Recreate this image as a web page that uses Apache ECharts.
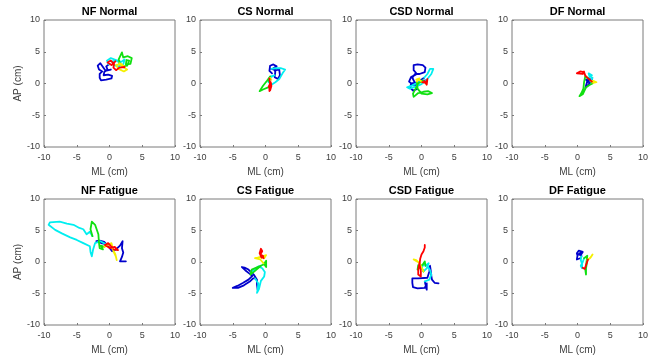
<!DOCTYPE html>
<html>
<head>
<meta charset="utf-8">
<script src="https://cdn.jsdelivr.net/npm/echarts@6/dist/echarts.min.js"></script>
<style>
html,body{margin:0;padding:0;background:#fff;}
#chart{width:656px;height:356px;}
</style>
</head>
<body>
<div id="chart"></div>
<script>
// Panel titles and axis labels
const TITLES = ['NF Normal', 'CS Normal', 'CSD Normal', 'DF Normal',
                'NF Fatigue', 'CS Fatigue', 'CSD Fatigue', 'DF Fatigue'];
const X_LABEL = 'ML (cm)';
const Y_LABEL = 'AP (cm)';
const AXIS_MIN = -10, AXIS_MAX = 10, AXIS_STEP = 5;
// Time segments of each trajectory: blue -> cyan -> green -> yellow -> red
const SEGMENT_COLORS = ['#0000cc', '#00eef0', '#10e010', '#f5f000', '#ff0000'];

// Each panel: [blue, cyan, green, yellow, red] segments of [ML, AP] points (cm)
const NF_NORMAL = [
  [[0.2,2.2],[-0.6,2.0],[-1.0,2.6],[-1.4,3.2],[-1.8,2.8],[-1.6,2.2],[-1.1,1.9],[-1.5,1.5],[-1.5,0.9],[-1.3,0.5],[-0.5,0.6],[0.3,0.8],[0.4,1.2],[-0.2,1.4],[-0.9,1.3],[-0.8,1.8],[-0.3,2.2],[-0.5,2.7],[-0.1,3.0]],
  [[-0.1,3.0],[-0.4,3.6],[0.2,4.0],[1.0,3.7],[1.8,3.4],[2.3,3.8],[2.1,3.0],[1.4,2.7],[0.6,2.9],[0.4,3.5],[1.2,3.6],[1.6,3.1]],
  [[1.6,3.1],[1.4,3.8],[1.9,4.9],[2.1,4.1],[2.8,4.3],[3.4,4.0],[3.2,3.1],[2.5,3.0],[2.6,3.7],[3.0,3.6],[2.7,2.8],[2.0,2.7],[1.5,3.2]],
  [[1.5,3.2],[2.0,2.6],[2.7,2.2],[2.2,1.9],[1.4,2.3],[1.0,2.9],[1.8,3.1],[2.3,2.6]],
  [[2.3,2.6],[1.5,2.5],[1.0,2.1],[0.6,2.5],[0.7,3.1],[0.2,3.6],[-0.3,3.3],[0.3,2.9],[0.9,3.5]]
];
const CS_NORMAL = [
  [[1.0,1.6],[0.6,2.0],[0.3,2.3],[0.7,2.8],[1.2,3.0],[1.7,2.7],[1.2,2.4],[1.5,1.9],[1.4,1.0],[1.9,0.7],[2.2,1.3],[2.1,2.2],[1.6,2.1],[0.9,2.3]],
  [[0.9,2.3],[1.5,2.4],[2.4,2.4],[3.0,2.2],[2.6,1.6],[2.1,0.7],[1.5,0.2],[0.9,-0.2],[0.4,0.3],[0.8,1.0],[1.4,1.3],[0.7,1.1]],
  [[0.7,1.1],[0.2,0.4],[-0.4,-0.4],[-0.9,-1.2],[-0.3,-0.9],[0.4,-0.6],[0.8,-0.2],[0.5,0.5],[0.7,0.9]],
  [[0.7,0.9],[0.9,0.6],[0.6,0.8]],
  [[0.6,0.8],[0.7,0.0],[0.5,-0.5],[0.7,-1.1],[0.9,-0.4],[0.8,0.2],[0.6,-0.7],[0.6,-1.2]]
];
const CSD_NORMAL = [
  [[0.6,0.5],[-0.4,0.2],[-1.0,0.1],[-1.6,0.0],[-1.7,-0.7],[-1.3,-1.1],[-0.7,-0.9],[-0.9,-0.1],[-1.4,0.9],[-1.0,1.5],[-0.3,1.5],[0.5,1.8],[0.6,2.5],[0.2,2.9],[-0.6,3.0],[-1.2,2.9],[-1.2,2.1],[-0.7,1.5],[-1.6,1.0],[-1.9,0.3],[-1.2,-0.3],[-0.3,0.4],[0.4,0.9]],
  [[0.4,0.9],[0.9,1.5],[1.3,2.3],[1.8,2.3],[1.5,1.5],[0.8,0.6],[0.0,-0.1],[-0.9,-0.5],[-1.8,-0.8],[-2.2,-0.6],[-1.4,-0.3],[-0.5,0.2],[0.2,0.5]],
  [[0.2,0.5],[-0.5,0.0],[-0.9,-0.8],[-1.3,-1.6],[-1.2,-2.1],[-0.5,-1.5],[0.3,-1.3],[1.0,-1.2],[1.6,-1.5],[0.9,-1.7],[0.0,-1.6],[-0.6,-0.8],[-0.7,0.3]],
  [[-0.7,0.3],[-0.3,0.8],[-0.8,0.6],[-0.2,0.5],[0.1,0.2]],
  [[0.1,0.2],[0.6,0.1],[0.9,0.7],[1.2,1.0],[0.8,-0.2],[0.6,-0.5],[0.8,-0.1],[0.4,0.4]]
];
const DF_NORMAL = [
  [[1.6,0.2],[1.3,0.6],[1.8,0.7],[2.2,0.6],[1.9,0.1],[1.6,-0.3],[1.2,-0.7],[1.0,-1.0],[1.3,-0.4],[1.5,0.4],[2.0,0.3]],
  [[2.0,0.3],[2.3,0.9],[1.8,1.2],[1.7,1.6],[2.2,1.3],[1.6,0.8]],
  [[1.6,0.8],[1.2,1.2],[1.0,0.2],[0.9,-0.8],[0.6,-1.5],[0.3,-2.0],[0.8,-1.7],[1.3,-0.6],[1.9,-0.2],[2.3,0.0],[2.0,0.4]],
  [[2.0,0.4],[2.5,0.4],[2.9,0.2],[2.4,0.1],[2.2,0.3]],
  [[2.2,0.3],[1.2,1.2],[1.0,1.8],[0.9,2.1],[0.4,1.9],[-0.1,1.6],[0.2,1.3],[0.8,1.5],[1.0,1.9]]
];
const NF_FATIGUE = [
  [[2.5,0.1],[2.1,0.1],[1.6,0.1],[1.9,0.8],[2.1,1.5],[1.9,2.2],[2.0,3.3],[1.6,2.6],[1.3,2.4],[1.0,2.0],[0.4,1.7],[-0.2,2.5],[-0.8,3.2],[-1.5,3.4],[-2.0,3.3],[-1.2,3.0],[-0.5,2.8]],
  [[-0.5,2.8],[-1.4,3.3],[-2.2,3.0],[-2.5,2.0],[-2.7,0.9],[-2.9,1.6],[-3.0,2.5],[-4.0,3.0],[-5.0,3.5],[-6.0,3.9],[-7.2,4.5],[-8.3,5.1],[-9.3,5.9],[-9.1,6.3],[-7.6,6.4],[-6.5,6.1],[-5.5,5.9],[-4.6,5.4],[-4.0,5.2],[-3.5,4.4],[-3.0,4.8],[-2.6,4.1]],
  [[-2.6,4.1],[-2.9,5.2],[-2.7,6.4],[-2.2,5.9],[-1.7,4.4],[-1.6,3.0],[-1.5,2.2],[-1.0,2.0],[-1.3,2.6],[-0.8,2.4]],
  [[-0.8,2.4],[0.3,3.0],[0.6,1.7],[1.0,0.8],[1.1,0.3],[0.9,1.2],[0.4,2.3]],
  [[0.4,2.3],[-0.2,3.0],[-0.7,2.7],[0.1,2.2],[0.8,2.4],[1.3,1.9],[0.6,2.0]]
];
const CS_FATIGUE = [
  [[-1.2,-4.4],[-1.3,-3.6],[-1.3,-2.8],[-1.8,-2.0],[-2.6,-1.2],[-3.2,-0.9],[-3.6,-0.8],[-3.1,-1.3],[-2.5,-1.8],[-2.0,-2.2],[-2.6,-2.8],[-3.4,-3.3],[-4.3,-3.8],[-5.0,-4.1],[-4.9,-4.3],[-4.2,-4.1],[-3.3,-3.7],[-2.4,-3.1],[-1.9,-2.6],[-1.6,-2.6]],
  [[-1.6,-2.6],[-1.1,-3.4],[-1.2,-4.4],[-1.3,-4.9],[-1.0,-4.3],[-0.7,-3.0],[-0.2,-2.3],[-0.1,-1.6],[-0.5,-1.0],[-1.1,-0.7],[-1.8,-1.3],[-2.2,-1.6],[-1.5,-1.0],[-0.7,-0.6]],
  [[-0.7,-0.6],[-1.6,-1.4],[-2.3,-2.0],[-2.1,-1.2],[-1.2,-0.8],[-0.3,-0.4],[0.1,0.2],[0.1,-0.8],[-0.3,-0.2]],
  [[-0.3,-0.2],[-0.8,0.4],[-1.6,0.6],[-1.9,0.7],[-1.2,0.7],[-0.5,0.9],[0.1,1.1],[-0.2,0.6],[-0.6,0.7]],
  [[-0.6,0.7],[-0.9,1.4],[-0.7,2.1],[-0.5,1.7],[-0.8,1.2],[-0.4,1.0],[-0.3,0.6]]
];
const CSD_FATIGUE = [
  [[2.6,-3.4],[2.0,-3.3],[1.6,-2.8],[1.5,-2.2],[1.4,-1.3],[1.3,-0.6],[1.0,-0.6],[1.2,-1.5],[0.9,-2.5],[0.6,-2.8],[-0.5,-2.6],[-1.4,-2.6],[-1.4,-3.3],[-1.3,-4.0],[-0.6,-4.2],[0.5,-4.1],[0.8,-3.4],[0.8,-4.4],[0.5,-3.1]],
  [[0.5,-3.1],[1.2,-2.8],[1.5,-2.0],[1.3,-1.3],[0.9,-0.6],[0.4,-0.3],[0.0,-0.9],[0.3,-1.5],[0.8,-1.0],[1.1,-0.2],[0.6,-0.6]],
  [[0.6,-0.6],[0.5,0.1],[0.2,-0.4],[-0.3,-0.8],[-0.6,-1.2],[-0.5,-0.5],[0.0,-0.9],[0.3,-1.5]],
  [[0.3,-1.5],[-0.3,-0.2],[-0.8,0.3],[-1.2,0.4],[-0.7,0.1],[-0.3,-0.1]],
  [[-0.3,-0.1],[-0.5,-1.2],[-0.5,-2.0],[-0.1,-2.3],[-0.1,-1.4],[-0.3,-0.4],[-0.2,0.5],[0.0,1.2],[0.3,1.7],[0.1,2.0],[0.5,2.3],[0.5,2.7]]
];
const DF_FATIGUE = [
  [[0.4,0.6],[-0.1,0.4],[0.0,1.0],[-0.1,1.4],[0.2,1.8],[0.5,1.9],[0.8,1.6],[0.5,1.1],[0.3,0.8],[0.1,1.2],[0.5,1.5],[0.6,0.9]],
  [[0.6,0.9],[0.5,0.3],[0.7,-0.3],[0.9,-0.5],[0.7,-1.0],[0.5,-0.6],[0.8,0.0],[1.0,0.6]],
  [[1.0,0.6],[1.1,0.9],[1.5,1.0],[1.8,0.7],[1.4,0.2],[1.3,-0.6],[1.2,-1.3],[1.3,-2.0],[1.3,-1.0],[1.5,0.3]],
  [[1.5,0.3],[1.9,0.6],[2.2,0.8],[2.3,1.2],[2.0,0.7],[1.6,0.4]],
  [[1.6,0.4],[1.3,-0.5],[1.1,-1.1],[0.8,-0.9],[1.2,-1.2],[1.0,-1.0]]
];
const PANELS = [NF_NORMAL, CS_NORMAL, CSD_NORMAL, DF_NORMAL,
                NF_FATIGUE, CS_FATIGUE, CSD_FATIGUE, DF_FATIGUE];

// ---- layout (pixels) ----
const LEFTS = [44, 200, 356, 512];
const TOPS = [20, 199];
const W = 131, H = 127;
const FONT = 'Liberation Sans, Arial, Helvetica, sans-serif';
const BOX_COLOR = '#7a7a7a';
const TEXT_COLOR = '#404040';

const grids = [], xAxes = [], yAxes = [], titles = [], series = [];
PANELS.forEach((panel, p) => {
  const col = p % 4, row = Math.floor(p / 4);
  grids.push({left: LEFTS[col], top: TOPS[row], width: W, height: H,
    show: true, borderColor: BOX_COLOR, borderWidth: 1, backgroundColor: '#fff'});
  const common = {
    type: 'value', min: AXIS_MIN, max: AXIS_MAX, interval: AXIS_STEP,
    gridIndex: p,
    axisLine: {show: false, onZero: false},
    axisTick: {show: true, inside: true, length: 2, lineStyle: {color: BOX_COLOR}},
    splitLine: {show: false},
    axisLabel: {color: TEXT_COLOR, fontSize: 9, fontFamily: FONT, margin: 6},
    nameLocation: 'middle',
    nameTextStyle: {color: TEXT_COLOR, fontSize: 10, fontFamily: FONT}
  };
  xAxes.push(Object.assign({}, common, {name: X_LABEL, nameGap: 20, position: 'bottom'}));
  yAxes.push(Object.assign({}, common, {name: col === 0 ? Y_LABEL : '', nameGap: 15, position: 'left',
    axisLabel: Object.assign({}, common.axisLabel, {margin: 4})}));
  titles.push({text: TITLES[p], left: LEFTS[col] + W / 2, top: TOPS[row] - 14, textAlign: 'center',
    padding: 0,
    textStyle: {fontSize: 11, fontWeight: 'bold', color: '#000', fontFamily: FONT}});
  panel.forEach((seg, c) => {
    series.push({type: 'line', xAxisIndex: p, yAxisIndex: p, data: seg,
      showSymbol: false, symbol: 'none', z: 2 + c,
      lineStyle: {width: 1.8, color: SEGMENT_COLORS[c], join: 'round', cap: 'round'},
      itemStyle: {color: SEGMENT_COLORS[c]}});
  });
});

const chart = echarts.init(document.getElementById('chart'), null, {renderer: 'canvas'});
chart.setOption({
  animation: false,
  backgroundColor: '#fff',
  title: titles,
  grid: grids,
  xAxis: xAxes,
  yAxis: yAxes,
  series: series
});
</script>
</body>
</html>
